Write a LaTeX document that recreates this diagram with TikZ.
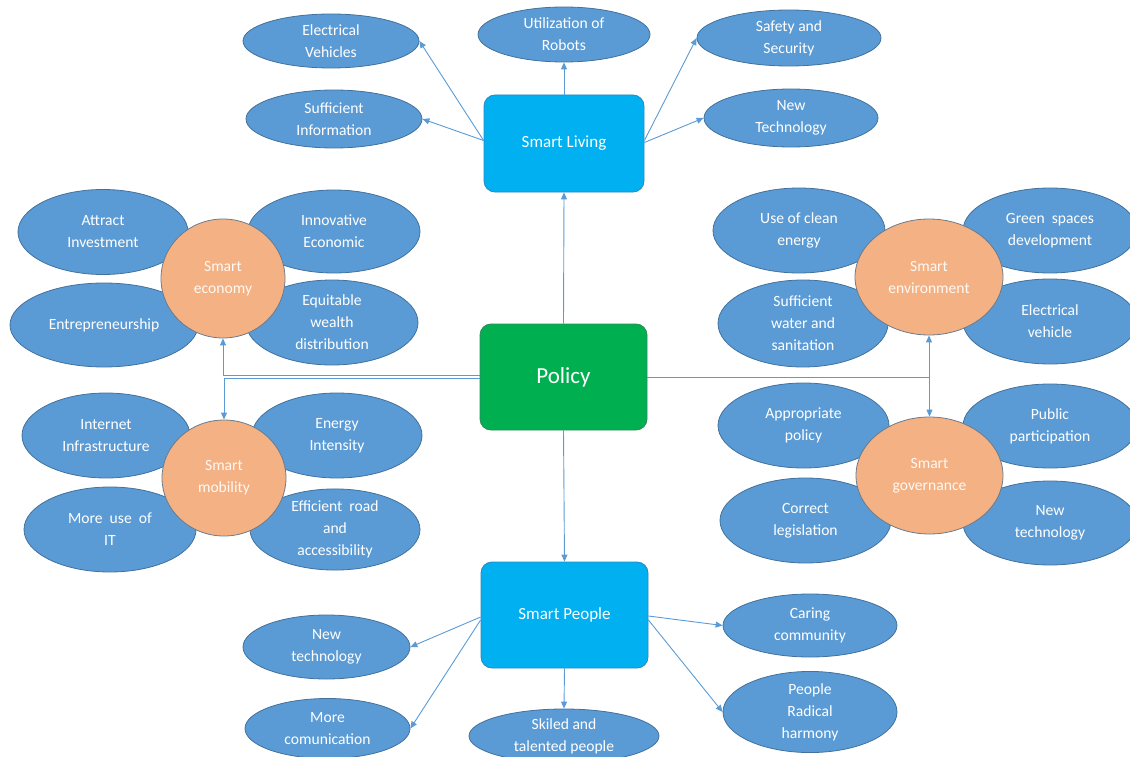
\documentclass[tikz,border=0pt]{standalone}
\usepackage{fontspec}
\setmainfont{Carlito}
\usetikzlibrary{shapes.geometric,arrows.meta}
\definecolor{leafblue}{HTML}{5B9BD5}
\definecolor{leafline}{HTML}{41719C}
\definecolor{hubcyan}{HTML}{00B0F0}
\definecolor{hubline}{HTML}{2E86C1}
\definecolor{policygreen}{HTML}{00B050}
\definecolor{policyline}{HTML}{2E8B57}
\definecolor{sectororange}{HTML}{F4B183}
\definecolor{sectorline}{HTML}{6A7B8C}
\tikzset{
  leaf/.style={ellipse, draw=leafline, fill=leafblue, line width=0.8pt, inner sep=0pt,
    text=white, align=center, font=\fontsize{15.6}{22}\selectfont},
  hub/.style={rounded corners=11pt, draw=hubline, fill=hubcyan, line width=0.8pt,
    minimum width=160pt, minimum height=97pt, text=white, font=\fontsize{17}{20}\selectfont},
  sector/.style={ellipse, draw=sectorline, fill=sectororange, line width=0.8pt, inner sep=0pt,
    text=white!92!sectororange, align=center, font=\fontsize{15.6}{22}\selectfont},
  link/.style={draw=leafblue, line width=0.9pt, -{Triangle[length=7pt,width=6pt]}}
}
\begin{document}
\begin{tikzpicture}[x=1pt,y=-1pt]
\useasboundingbox (0,0) rectangle (1130,757);
\node[hub] (living) at (564,143.5) {Smart Living};
\node[hub, draw=policyline, fill=policygreen, minimum width=167pt, minimum height=106pt,
  font=\fontsize{23}{26}\selectfont] (policy) at (563.5,377) {Policy};
\node[hub, minimum width=167pt, minimum height=106pt] (people) at (564.5,615) {Smart People};
\node[leaf, minimum width=176pt, minimum height=54pt] (evs) at (331,41) {Electrical\\Vehicles};
\node[leaf, minimum width=172pt, minimum height=55pt] (robots) at (564,34.5) {Utilization of\\Robots};
\node[leaf, minimum width=184pt, minimum height=56pt] (safety) at (789,38) {Safety and\\Security};
\node[leaf, minimum width=176pt, minimum height=58pt] (info) at (334,119) {Sufficient\\Information};
\node[leaf, minimum width=174pt, minimum height=58pt] (livtech) at (791,118) {New\\Technology};
\node[leaf, minimum width=170pt, minimum height=85pt] (invest) at (103,232) {Attract\\Investment};
\node[leaf, minimum width=172pt, minimum height=83pt] (innov) at (334,231.5) {Innovative\\Economic};
\node[leaf, minimum width=188pt, minimum height=84pt] (entre) at (104,325) {Entrepreneurship};
\node[leaf, minimum width=172pt, minimum height=85pt] (wealth) at (332,322.5) {Equitable\\wealth\\distribution};
\node[sector, minimum width=124pt, minimum height=119pt] (economy) at (223,278.5) {Smart\\economy};
\node[leaf, minimum width=168pt, minimum height=85pt] (internet) at (106,435.5) {Internet\\Infrastructure};
\node[leaf, minimum width=170pt, minimum height=85pt] (energy) at (337,435.5) {Energy\\Intensity};
\node[leaf, minimum width=172pt, minimum height=85pt] (useit) at (110,529.5) {More\ \ use\ \ of\\IT};
\node[leaf, minimum width=170pt, minimum height=81pt] (road) at (335,529.5) {Efficient\ \ road\\and\\accessibility};
\node[sector, minimum width=124pt, minimum height=116pt] (mobility) at (224,478) {Smart\\mobility};
\node[leaf, minimum width=172pt, minimum height=85pt] (clean) at (799,230.5) {Use of clean\\energy};
\node[leaf, minimum width=174pt, minimum height=85pt] (green) at (1050,230.5) {Green\ \ spaces\\development};
\node[leaf, minimum width=170pt, minimum height=87pt] (water) at (803,323.5) {Sufficient\\water and\\sanitation};
\node[leaf, minimum width=174pt, minimum height=85pt] (envcar) at (1050,321.5) {Electrical\\vehicle};
\node[sector, minimum width=148pt, minimum height=116pt] (environment) at (929,277) {Smart\\environment};
\node[leaf, minimum width=171pt, minimum height=85pt] (approp) at (803.5,425.5) {Appropriate\\policy};
\node[leaf, minimum width=174pt, minimum height=84pt] (public) at (1050,426) {Public\\participation};
\node[leaf, minimum width=171pt, minimum height=85pt] (legis) at (805.5,520.5) {Correct\\legislation};
\node[leaf, minimum width=174pt, minimum height=84pt] (govtech) at (1050,523) {New\\technology};
\node[sector, minimum width=147pt, minimum height=117pt] (governance) at (929.5,475.5) {Smart\\governance};
\node[leaf, minimum width=167pt, minimum height=64pt] (peotech) at (326.5,647) {New\\technology};
\node[leaf, minimum width=165pt, minimum height=60pt] (comm) at (327.5,728.5) {More\\comunication};
\node[leaf, minimum width=190pt, minimum height=54pt] (skill) at (564,736) {Skiled and\\talented people};
\node[leaf, minimum width=174pt, minimum height=63pt] (caring) at (810,625.5) {Caring\\community};
\node[leaf, minimum width=174pt, minimum height=66pt] (harmony) at (810,712) {People\\Radical\\harmony};
\draw[link] ([yshift=3pt]living.west) -- (evs.east);
\draw[link] ([yshift=3pt]living.west) -- (info.east);
\draw[link] (living.north) -- (robots.south);
\draw[link] ([yshift=3pt]living.east) -- (safety.west);
\draw[link] ([yshift=1pt]living.east) -- (livtech.west);
\draw[link] (policy.north) -- (living.south);
\draw[link] (policy.south) -- (people.south |- people.north);
\draw[link] ([yshift=1.5pt]policy.west) -| (economy.south);
\draw[link] ([yshift=-1.5pt]policy.west) -| (mobility.north);
\draw[link] (policy.east) -| (environment.south);
\draw[link] (policy.east) -| (governance.north);
\draw[link] ([yshift=-2pt]people.west) -- (peotech.east);
\draw[link] ([yshift=-5pt]people.west) -- (comm.east);
\draw[link] (people.south) -- (skill.north);
\draw[link] ([yshift=-1pt]people.east) -- (caring.west);
\draw[link] ([yshift=-5pt]people.east) -- (harmony.west);
\end{tikzpicture}
\end{document}
